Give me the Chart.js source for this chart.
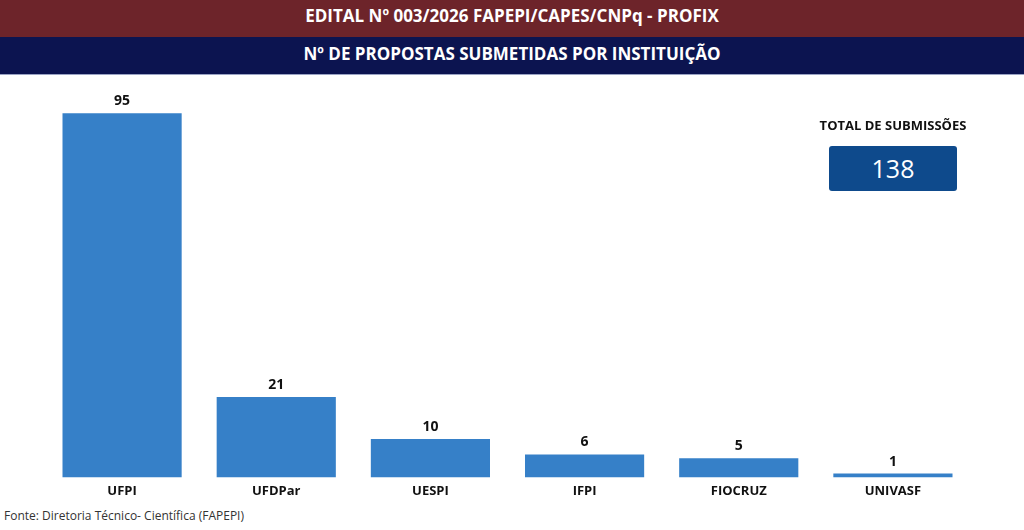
<!DOCTYPE html>
<html>
<head>
<meta charset="utf-8">
<script src="https://cdn.jsdelivr.net/npm/chart.js@4"></script>
<style>
  html, body { margin: 0; padding: 0; background: #fff; }
  body { width: 1024px; height: 530px; position: relative; overflow: hidden; font-family: "Open Sans", "Noto Sans", sans-serif; }
  .bar1 { position: absolute; left: 0; top: 0; width: 1024px; height: 37px; background: #6d242a; color: #fff;
          font-weight: 700; font-size: 17px; line-height: 32px; text-align: center; }
  .bar2 { position: absolute; left: 0; top: 37px; width: 1024px; height: 37px; background: #0c1450; color: #fff;
          font-weight: 700; font-size: 17px; line-height: 34px; text-align: center; border-bottom: 1px solid #9aa3c4; }
  #wrap { position: absolute; left: 0; top: 80px; width: 1024px; height: 427px; }
  .total-t { position: absolute; left: 793px; top: 116px; width: 200px; text-align: center; font-weight: 700; font-size: 13px; color: #111; }
  .total-b { position: absolute; left: 829px; top: 146px; width: 128px; height: 45px; background: #0e4a8c; border-radius: 3px;
             color: #fff; font-size: 25px; line-height: 45px; text-align: center; }
  .fonte { position: absolute; left: 4px; top: 507px; font-size: 12px; color: #333; font-family: "Open Sans", sans-serif; }
</style>
</head>
<body>
<div class="bar1">EDITAL Nº 003/2026 FAPEPI/CAPES/CNPq - PROFIX</div>
<div class="bar2">Nº DE PROPOSTAS SUBMETIDAS POR INSTITUIÇÃO</div>
<div id="wrap"><canvas id="myChart"></canvas></div>
<div class="total-t">TOTAL DE SUBMISSÕES</div>
<div class="total-b" id="total"></div>
<div class="fonte">Fonte: Diretoria Técnico- Científica (FAPEPI)</div>
<script>
var institutions = ["UFPI", "UFDPar", "UESPI", "IFPI", "FIOCRUZ", "UNIVASF"];
var proposals = [95, 21, 10, 6, 5, 1];

document.getElementById("total").textContent = proposals.reduce(function (a, b) { return a + b; }, 0);

// value labels above each bar
var valueLabels = {
  id: "valueLabels",
  afterDatasetsDraw: function (chart) {
    var ctx = chart.ctx;
    var meta = chart.getDatasetMeta(0);
    ctx.save();
    ctx.font = "bold 14px 'Open Sans', sans-serif";
    ctx.fillStyle = "#111";
    ctx.textAlign = "center";
    ctx.textBaseline = "bottom";
    meta.data.forEach(function (bar, i) {
      ctx.fillText(proposals[i], bar.x, bar.y - 5);
    });
    ctx.restore();
  }
};

var ctx = document.getElementById("myChart");
var myChart = new Chart(ctx, {
  type: "bar",
  data: {
    labels: institutions,
    datasets: [{
      data: proposals,
      backgroundColor: "#3680c8",
      barPercentage: 0.773,
      categoryPercentage: 1
    }]
  },
  options: {
    responsive: true,
    maintainAspectRatio: false,
    animation: false,
    layout: { padding: { left: 45, right: 54, top: 14, bottom: 2 } },
    plugins: { legend: { display: false }, tooltip: { enabled: false } },
    scales: {
      x: {
        grid: { display: false, drawTicks: false },
        border: { display: false },
        ticks: { color: "#111", padding: 6, font: { family: "'Open Sans', sans-serif", size: 13, weight: "bold" } }
      },
      y: { display: false, min: 0, max: 100 }
    }
  },
  plugins: [valueLabels]
});
</script>
</body>
</html>
